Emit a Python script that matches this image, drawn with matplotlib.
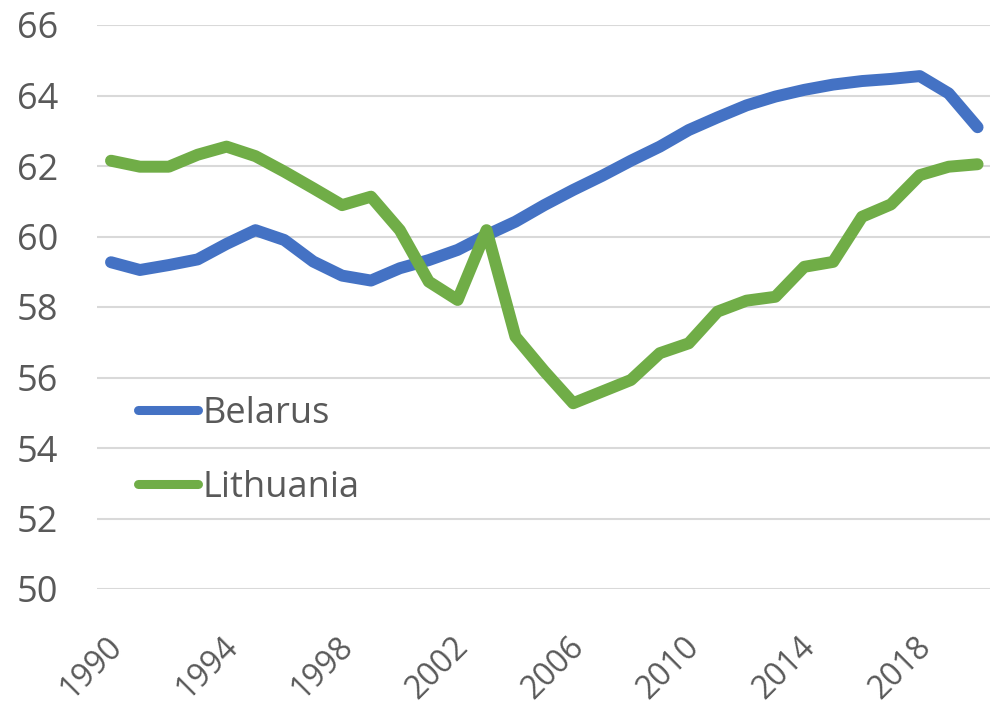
import matplotlib
matplotlib.use("Agg")
import matplotlib.pyplot as plt
import matplotlib.transforms as mtransforms

years = list(range(1990, 2021))
belarus = [59.27, 59.05, 59.19, 59.35, 59.79, 60.18, 59.90, 59.29, 58.89, 58.75,
           59.10, 59.33, 59.62, 60.04, 60.42, 60.89, 61.32, 61.72, 62.15, 62.55,
           63.02, 63.38, 63.72, 63.97, 64.16, 64.31, 64.41, 64.47, 64.55, 64.06, 63.10]
lithuania = [62.15, 61.98, 61.98, 62.32, 62.55, 62.28, 61.84, 61.37, 60.89, 61.13,
             60.18, 58.72, 58.20, 60.18, 57.16, 56.18, 55.27, 55.60, 55.93, 56.69,
             56.97, 57.87, 58.18, 58.29, 59.14, 59.28, 60.56, 60.91, 61.74, 61.98, 62.05]
xticks = list(range(1990, 2019, 4))
yticks = list(range(50, 67, 2))

plt.rcParams['font.family'] = ['Open Sans', 'DejaVu Sans']
txt = '#595959'

fig = plt.figure(figsize=(9.9, 7.07), dpi=100)
ax = fig.add_axes([97/990, 1-589/707, 893/990, 564/707])

ax.plot(years, belarus, color='#4472C4', lw=8.6, solid_capstyle='round',
        solid_joinstyle='round', label='Belarus', zorder=3)
ax.plot(years, lithuania, color='#70AD47', lw=8.6, solid_capstyle='round',
        solid_joinstyle='round', label='Lithuania', zorder=3)

ax.set_xlim(1989.515, 2020.43)
ax.set_ylim(50, 66)
ax.set_yticks(yticks)
ax.set_xticks(xticks)
ax.grid(axis='y', color='#D9D9D9', lw=1.5, zorder=0)
ax.set_axisbelow(True)
for s in ax.spines.values():
    s.set_visible(False)
ax.tick_params(axis='both', length=0, colors=txt, labelsize=26)
ax.tick_params(axis='x', labelsize=23)
ax.tick_params(axis='y', pad=28)
ax.tick_params(axis='x', pad=38)
for lab in ax.get_xticklabels():
    lab.set_rotation(45)
    lab.set_ha('right')
    lab.set_va('center')
    lab.set_rotation_mode('anchor')
    lab.set_transform(lab.get_transform() + mtransforms.ScaledTranslation(6/100, 0, fig.dpi_scale_trans))

leg = ax.legend(loc='center left', bbox_to_anchor=(138/990, 1-451/707),
                bbox_transform=fig.transFigure, frameon=False, fontsize=26,
                handlelength=1.65, handletextpad=0.15, labelspacing=1.05,
                borderpad=0, borderaxespad=0)
for t in leg.get_texts():
    t.set_color(txt)
for h in leg.get_lines():
    h.set_linewidth(6.5)

fig.savefig('out.png', dpi=100)
